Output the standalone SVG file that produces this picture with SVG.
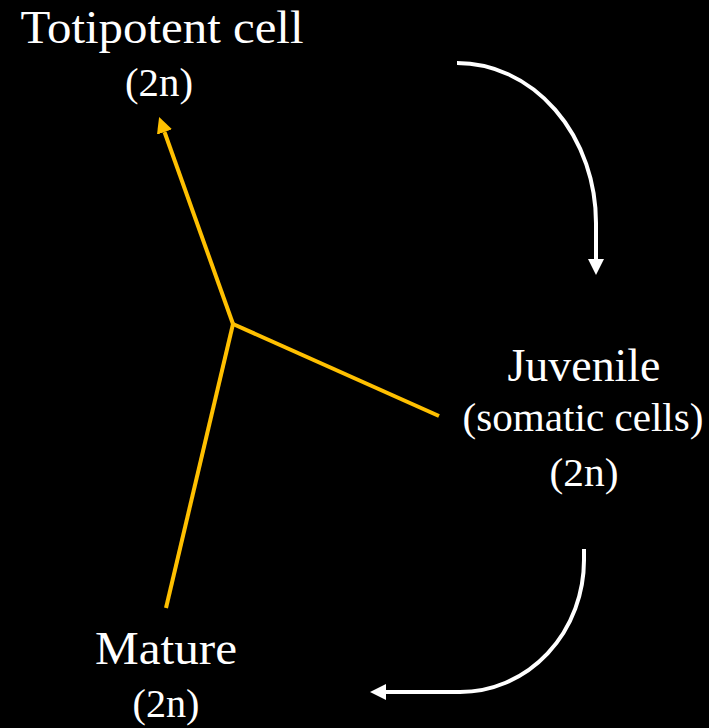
<svg xmlns="http://www.w3.org/2000/svg" width="709" height="728" viewBox="0 0 709 728">
<style>
.t{font-family:"Liberation Serif","Times New Roman",serif;font-size:46px;fill:#ffffff;text-anchor:middle}
.s{font-size:41px}
.w{fill:none;stroke:#ffffff;stroke-width:4}
.y{fill:none;stroke:#ffc000;stroke-width:4}
</style>
<defs>
<marker id="aw" viewBox="0 0 16 16" refX="0" refY="8" markerWidth="16" markerHeight="16" markerUnits="userSpaceOnUse" orient="auto">
<path d="M0,0 L16,8 L0,16 z" fill="#ffffff"/>
</marker>
<marker id="ay" viewBox="0 0 16 16" refX="0" refY="8" markerWidth="16" markerHeight="16" markerUnits="userSpaceOnUse" orient="auto">
<path d="M0,0 L16,8 L0,16 z" fill="#ffc000"/>
</marker>
</defs>
<rect width="709" height="728" fill="#000000"/>
<g id="connectors">
<path class="w" d="M457,63 A139,160 0 0 1 596,223 L596,259" marker-end="url(#aw)"/>
<path class="w" d="M584,549 L584,560 A124,132 0 0 1 460,692 L386,692" marker-end="url(#aw)"/>
<path class="y" d="M233,324 L164.5,132" marker-end="url(#ay)"/>
<path class="y" d="M233,324 L439,416"/>
<path class="y" d="M233,324 L166,608"/>
</g>
<g id="totipotent">
<text class="t" x="162" y="43" textLength="283" lengthAdjust="spacingAndGlyphs">Totipotent cell</text>
<text class="t s" x="159" y="96" textLength="68" lengthAdjust="spacingAndGlyphs">(2n)</text>
</g>
<g id="juvenile">
<text class="t" x="584" y="381" textLength="153" lengthAdjust="spacingAndGlyphs">Juvenile</text>
<text class="t s" x="583" y="431" textLength="241" lengthAdjust="spacingAndGlyphs">(somatic cells)</text>
<text class="t s" x="584" y="486" textLength="69" lengthAdjust="spacingAndGlyphs">(2n)</text>
</g>
<g id="mature">
<text class="t" x="166" y="664" textLength="142" lengthAdjust="spacingAndGlyphs">Mature</text>
<text class="t s" x="166" y="717" textLength="67" lengthAdjust="spacingAndGlyphs">(2n)</text>
</g>
</svg>
